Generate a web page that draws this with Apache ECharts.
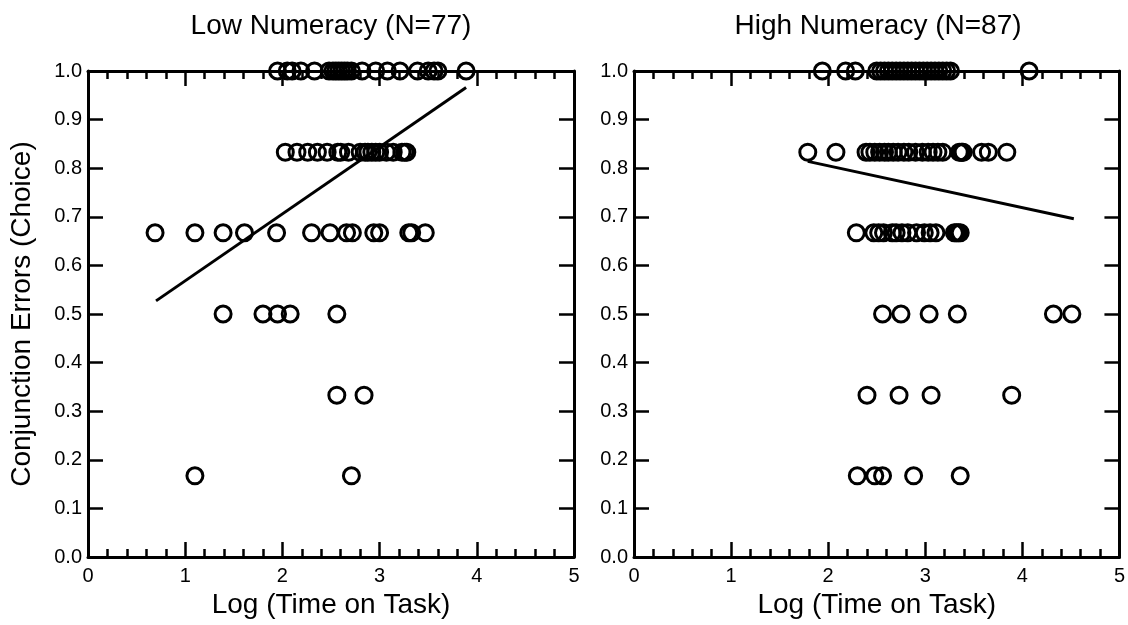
<!DOCTYPE html>
<html lang="en">
<head>
<meta charset="UTF-8">
<title>Conjunction Errors by Numeracy</title>
<script src="https://cdn.jsdelivr.net/npm/echarts@6/dist/echarts.min.js"></script>
<style>
  html, body { margin: 0; padding: 0; background: #fff; }
</style>
</head>
<body>
<div id="main" style="width: 1128px; height: 625px;"></div>
<script type="text/javascript">
// panel titles
var panelTitles = ['Low Numeracy (N=77)', 'High Numeracy (N=87)'];

// error levels (rows)
var levels = [1.0, 0.833, 0.667, 0.5, 0.333, 0.167];

// Low numeracy: log time values for each level row
var lowRows = [
  [1.95, 2.05, 2.10, 2.19, 2.33, 2.48, 2.52, 2.55, 2.58, 2.61, 2.64, 2.67, 2.71, 2.82, 2.96, 3.08, 3.21, 3.39, 3.50, 3.56, 3.60, 3.89],
  [2.03, 2.15, 2.26, 2.36, 2.46, 2.57, 2.60, 2.68, 2.80, 2.85, 2.88, 2.92, 2.96, 3.00, 3.07, 3.14, 3.23, 3.26, 3.28],
  [0.69, 1.10, 1.39, 1.61, 1.94, 2.30, 2.49, 2.66, 2.72, 2.94, 3.00, 3.30, 3.33, 3.47],
  [1.39, 1.80, 1.95, 2.08, 2.56],
  [2.56, 2.84],
  [1.10, 2.71]
];

// High numeracy
var highRows = [
  [1.94, 2.18, 2.28, 2.50, 2.54, 2.58, 2.62, 2.66, 2.70, 2.74, 2.78, 2.82, 2.86, 2.90, 2.94, 2.98, 3.02, 3.06, 3.10, 3.14, 3.18, 3.22, 3.26, 4.07],
  [1.79, 2.08, 2.39, 2.43, 2.48, 2.53, 2.58, 2.62, 2.67, 2.72, 2.78, 2.83, 2.90, 2.97, 3.03, 3.08, 3.13, 3.18, 3.35, 3.37, 3.38, 3.39, 3.58, 3.65, 3.84],
  [2.29, 2.47, 2.52, 2.57, 2.66, 2.70, 2.76, 2.82, 2.91, 2.99, 3.05, 3.11, 3.30, 3.32, 3.34, 3.36],
  [2.56, 2.75, 3.04, 3.33, 4.32, 4.51],
  [2.40, 2.73, 3.06, 3.89],
  [2.30, 2.48, 2.56, 2.88, 3.36]
];

// fit line end points
var lowFit = [[0.70, 0.527], [3.89, 0.966]];
var highFit = [[1.79, 0.814], [4.53, 0.696]];

var font = 'Liberation Sans, Arial, sans-serif';

function toPoints(rows) {
  var pts = [];
  rows.forEach(function (row, i) {
    row.forEach(function (x) { pts.push([x, levels[i]]); });
  });
  return pts;
}

function xAxes(gi) {
  var base = {
    gridIndex: gi, type: 'value', min: 0, max: 5, interval: 1,
    axisLine: { show: true, onZero: false, lineStyle: { color: '#000', width: 3 } },
    axisTick: { show: true, inside: true, length: 15, lineStyle: { color: '#000', width: 2.5 } },
    minorTick: { show: true, splitNumber: 5, length: 8, lineStyle: { color: '#000', width: 2.5 } },
    splitLine: { show: false }
  };
  var bottom = Object.assign({}, base, {
    position: 'bottom',
    axisLabel: { show: true, color: '#000', fontSize: 20, fontFamily: font, margin: 9 },
    name: 'Log (Time on Task)', nameLocation: 'middle', nameGap: 34,
    nameTextStyle: { color: '#000', fontSize: 28, fontFamily: font }
  });
  var top = Object.assign({}, base, { position: 'top', axisLabel: { show: false } });
  return [bottom, top];
}

function yAxes(gi) {
  var base = {
    gridIndex: gi, type: 'value', min: 0, max: 1, interval: 0.1,
    axisLine: { show: true, onZero: false, lineStyle: { color: '#000', width: 3 } },
    axisTick: { show: true, inside: true, length: 15, lineStyle: { color: '#000', width: 2.5 } },
    splitLine: { show: false }
  };
  var left = Object.assign({}, base, {
    position: 'left',
    axisLabel: {
      show: true, color: '#000', fontSize: 20, fontFamily: font, margin: 6,
      formatter: function (v) { return v.toFixed(1); }
    }
  });
  if (gi === 0) {
    left.name = 'Conjunction Errors (Choice)';
    left.nameLocation = 'middle';
    left.nameGap = 52;
    left.nameTextStyle = { color: '#000', fontSize: 28, fontFamily: font };
  }
  var right = Object.assign({}, base, { position: 'right', axisLabel: { show: false } });
  return [left, right];
}

function scatter(gi, data) {
  return {
    type: 'scatter', xAxisIndex: gi * 2, yAxisIndex: gi * 2, clip: false,
    symbol: 'circle', symbolSize: 16, data: data,
    itemStyle: { color: 'rgba(0,0,0,0)', borderColor: '#000', borderWidth: 3, opacity: 1 },
    emphasis: { disabled: true }, z: 5
  };
}

function fitLine(gi, data) {
  return {
    type: 'line', xAxisIndex: gi * 2, yAxisIndex: gi * 2, data: data,
    showSymbol: false, symbol: 'none',
    lineStyle: { color: '#000', width: 3 }, z: 4, silent: true
  };
}

var myChart = echarts.init(document.getElementById('main'));

var option = {
  animation: false,
  backgroundColor: '#fff',
  title: [
    { text: panelTitles[0], left: 331, top: 12, textAlign: 'center', padding: 0,
      textStyle: { color: '#000', fontSize: 28, fontWeight: 'normal', fontFamily: font } },
    { text: panelTitles[1], left: 878, top: 12, textAlign: 'center', padding: 0,
      textStyle: { color: '#000', fontSize: 28, fontWeight: 'normal', fontFamily: font } }
  ],
  grid: [
    { left: 88, top: 71, width: 486, height: 486 },
    { left: 634, top: 71, width: 487, height: 486 }
  ],
  xAxis: xAxes(0).concat(xAxes(1)),
  yAxis: yAxes(0).concat(yAxes(1)),
  series: [
    scatter(0, toPoints(lowRows)),
    fitLine(0, lowFit),
    scatter(1, toPoints(highRows)),
    fitLine(1, highFit)
  ]
};

myChart.setOption(option);
</script>
</body>
</html>
